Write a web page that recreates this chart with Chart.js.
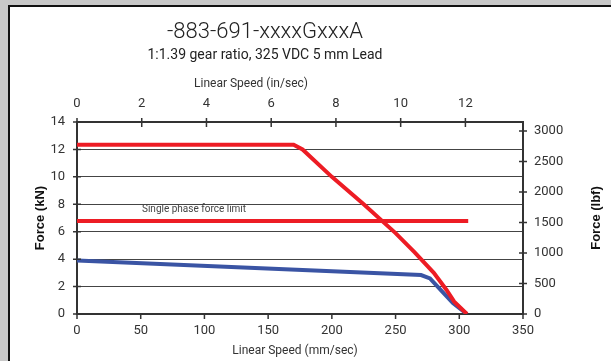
<!DOCTYPE html>
<html>
<head>
<meta charset="utf-8">
<script src="https://cdn.jsdelivr.net/npm/chart.js@4.4.1/dist/chart.umd.min.js"></script>
<style>
  html, body { margin: 0; padding: 0; background: #c8c8c8; width: 611px; height: 361px; overflow: hidden; }
  #sheet { position: absolute; left: 8px; top: 5px; width: 610px; height: 360px; background: #fff;
           border-left: 2px solid #111; border-top: 2px solid #111; }
  #chart { position: absolute; left: 0; top: 0; }
</style>
</head>
<body>
<div id="sheet"></div>
<canvas id="chart" width="611" height="361"></canvas>
<script>
// Speed in mm/sec, force in kN
const speedPeak = [0, 170, 177, 200, 225, 250, 265, 280, 290, 296, 306];
const forcePeak = [12.35, 12.35, 12.0, 10.0, 8.0, 5.9, 4.5, 3.0, 1.75, 0.9, 0];
const speedCont = [0, 270, 277, 285, 295, 306];
const forceCont = [3.9, 2.84, 2.6, 1.8, 0.8, 0];
const speedLimit = [0, 307];
const forceLimit = [6.78, 6.78];

const kNTicks = [0, 2, 4, 6, 8, 10, 12, 14];
const lbfTicks = [0, 500, 1000, 1500, 2000, 2500, 3000];
const mmTicks = [0, 50, 100, 150, 200, 250, 300, 350];
const inTicks = [0, 2, 4, 6, 8, 10, 12];

const titleText = '-883-691-xxxxGxxxA';
const subtitleText = '1:1.39 gear ratio, 325 VDC 5 mm Lead';
const limitLabel = 'Single phase force limit';

const KN_TO_LBF = 224.809;
const MM_PER_IN = 25.4;
const X_MAX = 350, Y_MAX = 14;

const RED = '#ed1c24', BLUE = '#3a54a4';
const TICK_FONT = { family: 'Roboto', size: 13 };

function pts(xs, ys) { return xs.map((x, i) => ({ x: x, y: ys[i] })); }
function fixedTicks(values) {
  return sc => { sc.ticks = values.map(v => ({ value: v })); };
}
const plainLabel = v => String(v);

// Cross-shaped tick marks on all four axes, plus the text blocks
const decorations = {
  id: 'decorations',
  afterDraw(chart) {
    const ctx = chart.ctx;
    const s = chart.scales;
    const a = chart.chartArea;
    ctx.save();
    ctx.strokeStyle = '#333';
    ctx.lineWidth = 1.5;
    ctx.beginPath();
    kNTicks.forEach(v => { const y = s.y.getPixelForValue(v); ctx.moveTo(a.left - 4, y); ctx.lineTo(a.left + 4, y); });
    lbfTicks.forEach(v => { const y = s.yR.getPixelForValue(v); ctx.moveTo(a.right - 4, y); ctx.lineTo(a.right + 4, y); });
    mmTicks.forEach(v => { const x = s.x.getPixelForValue(v); ctx.moveTo(x, a.bottom); ctx.lineTo(x, a.bottom + 5); });
    inTicks.forEach(v => { const x = s.xTop.getPixelForValue(v); ctx.moveTo(x, a.top - 4); ctx.lineTo(x, a.top + 5); });
    ctx.stroke();

    ctx.fillStyle = '#222';
    ctx.textAlign = 'center';
    ctx.textBaseline = 'middle';
    ctx.font = '300 22px Roboto';
    ctx.fillText(titleText, 265, 32);
    ctx.font = '14px Roboto';
    ctx.fillText(subtitleText, 265, 55);
    ctx.font = '12px Roboto';
    ctx.fillStyle = '#333';
    ctx.fillText('Linear Speed (in/sec)', 251, 84);
    ctx.fillText('Linear Speed (mm/sec)', 295, 351);

    ctx.font = 'bold 13px "Liberation Sans"';
    ctx.fillStyle = '#111';
    ctx.save();
    ctx.translate(40, a.top + (a.bottom - a.top) / 2);
    ctx.rotate(-Math.PI / 2);
    ctx.fillText('Force (kN)', 0, 0);
    ctx.restore();
    ctx.save();
    ctx.translate(596, a.top + (a.bottom - a.top) / 2);
    ctx.rotate(-Math.PI / 2);
    ctx.fillText('Force (lbf)', 0, 0);
    ctx.restore();

    ctx.font = '10px Roboto';
    ctx.fillStyle = '#444';
    ctx.textAlign = 'left';
    ctx.fillText(limitLabel, s.x.getPixelForValue(51), s.y.getPixelForValue(7.6));
    ctx.restore();
  }
};

new Chart(document.getElementById('chart'), {
  type: 'scatter',
  data: {
    datasets: [
      { label: 'Peak', data: pts(speedPeak, forcePeak), showLine: true, borderColor: RED, borderWidth: 4, pointRadius: 0, tension: 0, xAxisID: 'x', yAxisID: 'y' },
      { label: 'Limit', data: pts(speedLimit, forceLimit), showLine: true, borderColor: RED, borderWidth: 4, pointRadius: 0, tension: 0, xAxisID: 'x', yAxisID: 'y' },
      { label: 'Continuous', data: pts(speedCont, forceCont), showLine: true, borderColor: BLUE, borderWidth: 4, pointRadius: 0, tension: 0, xAxisID: 'x', yAxisID: 'y' }
    ]
  },
  options: {
    responsive: false,
    animation: false,
    layout: { padding: 0 },
    plugins: { legend: { display: false }, tooltip: { enabled: false }, title: { display: false } },
    scales: {
      x: {
        type: 'linear', position: 'bottom', min: 0, max: X_MAX,
        afterBuildTicks: fixedTicks(mmTicks),
        afterFit: sc => { sc.height = 47; },
        grid: { display: false, drawTicks: false },
        border: { display: true, color: '#333', width: 2 },
        ticks: { padding: 9, color: '#333', font: TICK_FONT, maxRotation: 0, autoSkip: false, callback: plainLabel }
      },
      xTop: {
        type: 'linear', axis: 'x', position: 'top', min: 0, max: X_MAX / MM_PER_IN,
        afterBuildTicks: fixedTicks(inTicks),
        afterFit: sc => { sc.height = 122; },
        grid: { display: false, drawTicks: false },
        border: { display: true, color: '#333', width: 2 },
        ticks: { padding: 10, color: '#333', font: TICK_FONT, maxRotation: 0, autoSkip: false, callback: plainLabel }
      },
      y: {
        type: 'linear', position: 'left', min: 0, max: Y_MAX,
        afterBuildTicks: fixedTicks(kNTicks),
        afterFit: sc => { sc.width = 77; },
        grid: { color: '#444', lineWidth: 1, drawTicks: false },
        border: { display: true, color: '#333', width: 2 },
        ticks: { padding: 12, color: '#333', font: TICK_FONT, autoSkip: false, callback: plainLabel }
      },
      yR: {
        type: 'linear', axis: 'y', position: 'right', min: 0, max: Y_MAX * KN_TO_LBF,
        afterBuildTicks: fixedTicks(lbfTicks),
        afterFit: sc => { sc.width = 88; },
        grid: { display: false, drawTicks: false },
        border: { display: true, color: '#333', width: 2 },
        ticks: { padding: 11, color: '#333', font: TICK_FONT, autoSkip: false, callback: plainLabel }
      }
    }
  },
  plugins: [decorations]
});
</script>
</body>
</html>
